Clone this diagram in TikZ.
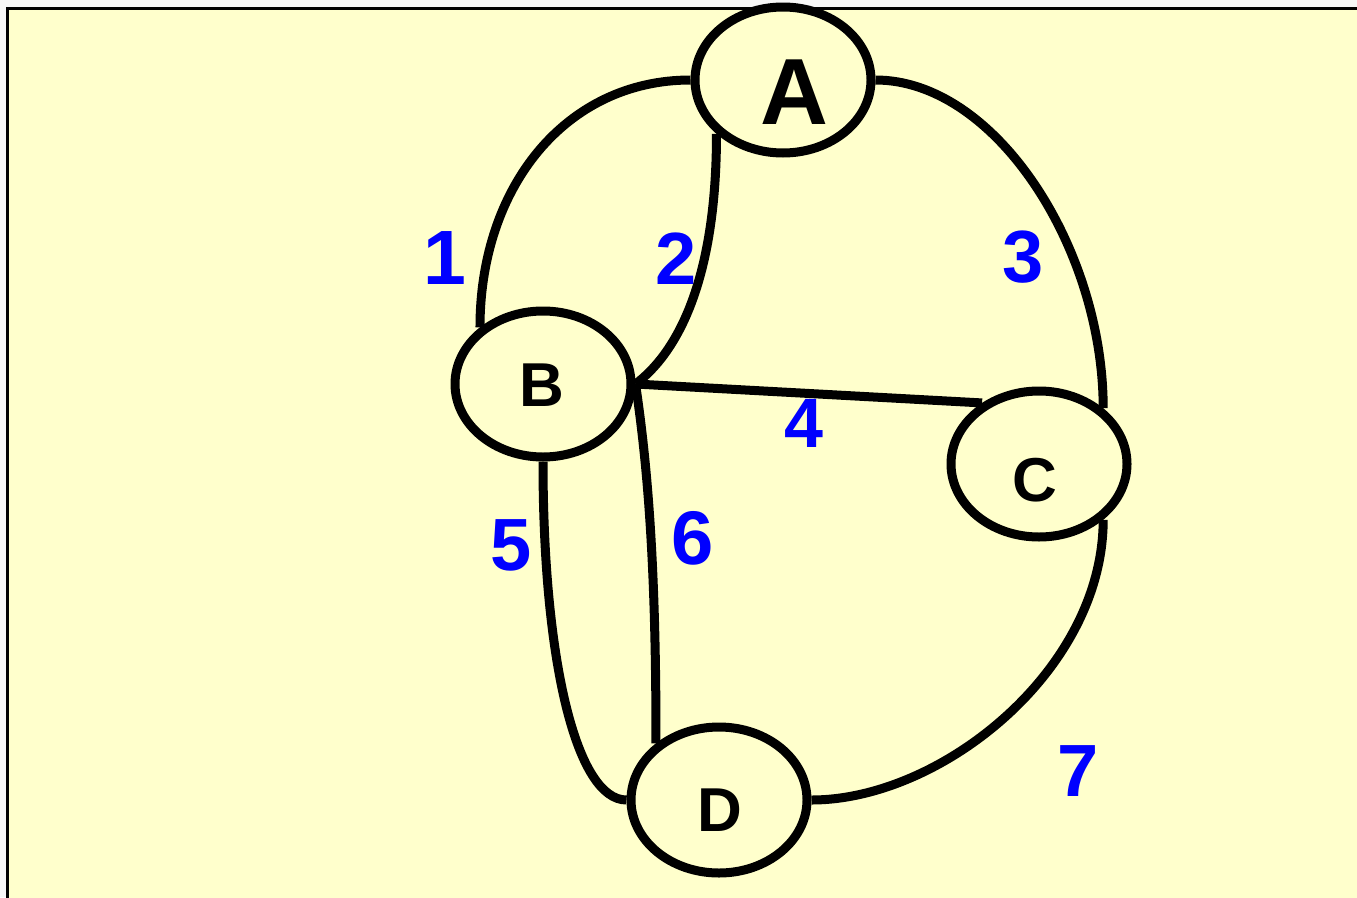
\documentclass[tikz,border=0pt]{standalone}
\usepackage{fontspec}
\setmainfont{Liberation Sans}
\usepackage{tikz}
\usetikzlibrary{shapes.geometric,positioning,calc}

\definecolor{paper}{HTML}{FFFFCC}
\definecolor{outside}{HTML}{F7F7F7}

\begin{document}
\begin{tikzpicture}[
        x=1pt, y=-1pt,
        town/.style={draw, ellipse, line width=9pt, minimum width=176pt, minimum height=146pt, inner sep=0pt},
        letter/.style={inner sep=0pt, font=\fontsize{62}{62}\selectfont\bfseries},
        num/.style={inner sep=0pt, text=blue, font=\fontsize{74}{74}\selectfont\bfseries},
        bridge/.style={line width=9pt}
      ]

      % Canvas and frame
      \useasboundingbox (0,0) rectangle (1357,897);
      \fill[outside] (0,0) rectangle (1357,897);
      \filldraw[fill=paper, draw=black, line width=3pt] (7.5,8.5) rectangle (1370,910);

      % Towns
      \node[town] (A) at (783,80) {};
      \node[town] (B) at (543,384) {};
      \node[town] (C) at (1039,464) {};
      \node[town] (D) at (719,800) {};

      % Bridges
      \draw[bridge] (A.180) .. controls +(-125,0) and +(0,-140) .. (B.138);
      \draw[bridge] (A.219) .. controls +(0,150) and +(40,-30) .. (B.east);
      \draw[bridge] (A.0) .. controls +(120,0) and +(0,-160) .. (C.41);
      \draw[bridge] (B.east) -- (C.133);
      \draw[bridge] (B.270) .. controls +(0,200) and +(-50,0) .. (D.180);
      \draw[bridge] (B.east) .. controls +(15,100) and +(0,-150) .. (D.138);
      \draw[bridge] (C.319) .. controls +(0,150) and +(130,0) .. (D.0);

      % Town letters
      \node[letter, font=\fontsize{94}{94}\selectfont\bfseries] (la) at ($(A)+(11,12)$) {A};
      \node[letter] (lb) at ($(B)+(-1,1)$) {B};
      \node[letter] (lc) at ($(C)+(-4,16)$) {C};
      \node[letter] (ld) at ($(D)+(1,10)$) {D};

      % Bridge numbers
      \node[num, font=\fontsize{77}{77}\selectfont\bfseries] (n1) at (445,258) {1};
      \node[num] (n2) at (676,259) {2};
      \node[num] (n3) at (1023,257) {3};
      \node[num, font=\fontsize{70}{70}\selectfont\bfseries] (n4) at (804,423) {4};
      \node[num] (n5) at (511,545) {5};
      \node[num, font=\fontsize{76}{76}\selectfont\bfseries] (n6) at (693,538) {6};
      \node[num] (n7) at (1078,771) {7};

\end{tikzpicture}
\end{document}
